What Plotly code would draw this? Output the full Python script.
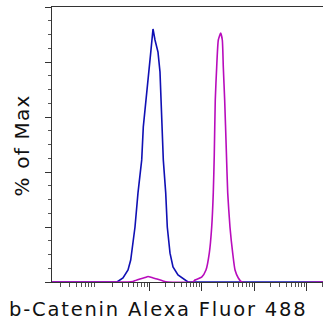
import plotly.graph_objects as go

# Blue histogram: log10(intensity) and % of max
blue_log = [0.143, 1.381, 1.495, 1.591, 1.642, 1.724, 1.781, 1.852, 1.882, 1.928, 1.977,
            2.023, 2.067, 2.105, 2.137, 2.162, 2.200, 2.229, 2.263, 2.309, 2.339, 2.391,
            2.448, 2.543, 2.676, 2.733, 5.305]
blue_pct = [0, 0, 1.45, 4.36, 8.0, 20.0, 32.4, 44.4, 56.4, 66.2, 74.5,
            83.3, 92.0, 88.0, 85.1, 83.6, 76.4, 58.9, 44.4, 32.4, 20.0, 10.5,
            5.45, 2.55, 0.73, 0, 0]

# Magenta histogram
mag_log = [0.143, 1.591, 1.686, 1.819, 1.914, 1.972, 2.048, 2.143, 2.257, 2.352,
           2.829, 2.867, 2.994, 3.076, 3.139, 3.185, 3.215, 3.234, 3.253, 3.280,
           3.311, 3.356, 3.387, 3.406, 3.432, 3.463, 3.490, 3.533, 3.585, 3.629,
           3.692, 3.756, 5.305]
mag_pct = [0, 0, 0.2, 1.1, 1.6, 2.0, 1.6, 1.1, 0.36, 0,
           0, 0.73, 1.8, 4.36, 10.5, 20.0, 32.4, 46.2, 66.2, 78.2,
           88.0, 90.5, 88.0, 78.2, 66.2, 48.0, 32.4, 20.0, 10.5, 4.36,
           1.45, 0, 0]

x_major = [1e2, 1e3, 1e4, 1e5]
x_minor = [k * 10 ** d for d in range(0, 6) for k in range(2, 10)]
y_major = [0, 20, 40, 60, 80, 100]

x_title = "b-Catenin Alexa Fluor 488"
y_title = "% of Max"

fig = go.Figure()
fig.add_trace(go.Scatter(x=[10 ** v for v in blue_log], y=blue_pct, mode="lines",
                         line=dict(color="#1010b4", width=1.6), hoverinfo="skip"))
fig.add_trace(go.Scatter(x=[10 ** v for v in mag_log], y=mag_pct, mode="lines",
                         line=dict(color="#b80cbc", width=1.6, shape="spline", smoothing=0.5),
                         hoverinfo="skip"))

fig.update_layout(
    width=324, height=322,
    margin=dict(l=52, r=1, t=7, b=40),
    paper_bgcolor="white", plot_bgcolor="white",
    showlegend=False,
    font=dict(family="DejaVu Sans", color="#222"),
    xaxis=dict(type="log", range=[0.143, 5.305], showgrid=False, zeroline=False,
               showline=True, linecolor="#333", linewidth=1.2, mirror=True,
               tickmode="array", tickvals=x_major, showticklabels=False,
               ticks="outside", ticklen=8, tickcolor="#333", tickwidth=1,
               minor=dict(tickmode="array", tickvals=x_minor, ticks="outside",
                          ticklen=4, tickcolor="#555", tickwidth=1, showgrid=False)),
    yaxis=dict(range=[0, 100], showgrid=False, zeroline=False,
               showline=True, linecolor="#333", linewidth=1.2,
               tickmode="array", tickvals=y_major, showticklabels=False,
               ticks="outside", ticklen=6, tickcolor="#333", tickwidth=1,
               minor=dict(dtick=5, ticks="outside", ticklen=3, tickcolor="#555",
                          tickwidth=1, showgrid=False)),
    annotations=[
        dict(text='<span style="letter-spacing:1.8px">' + x_title + "</span>",
             xref="paper", yref="paper",
             x=0.392, y=-0.101, xanchor="center", yanchor="middle", showarrow=False,
             font=dict(size=19.5, family="DejaVu Sans", color="#111")),
        dict(text='<span style="letter-spacing:1.2px">' + y_title + "</span>",
             xref="paper", yref="paper", x=-0.1125, y=0.4945,
             xanchor="center", yanchor="middle", textangle=-90, showarrow=False,
             font=dict(size=20, family="DejaVu Sans", color="#111")),
    ],
)

fig.write_html("out.html", config={"displayModeBar": False},
               post_script="document.body.style.margin='0';")
